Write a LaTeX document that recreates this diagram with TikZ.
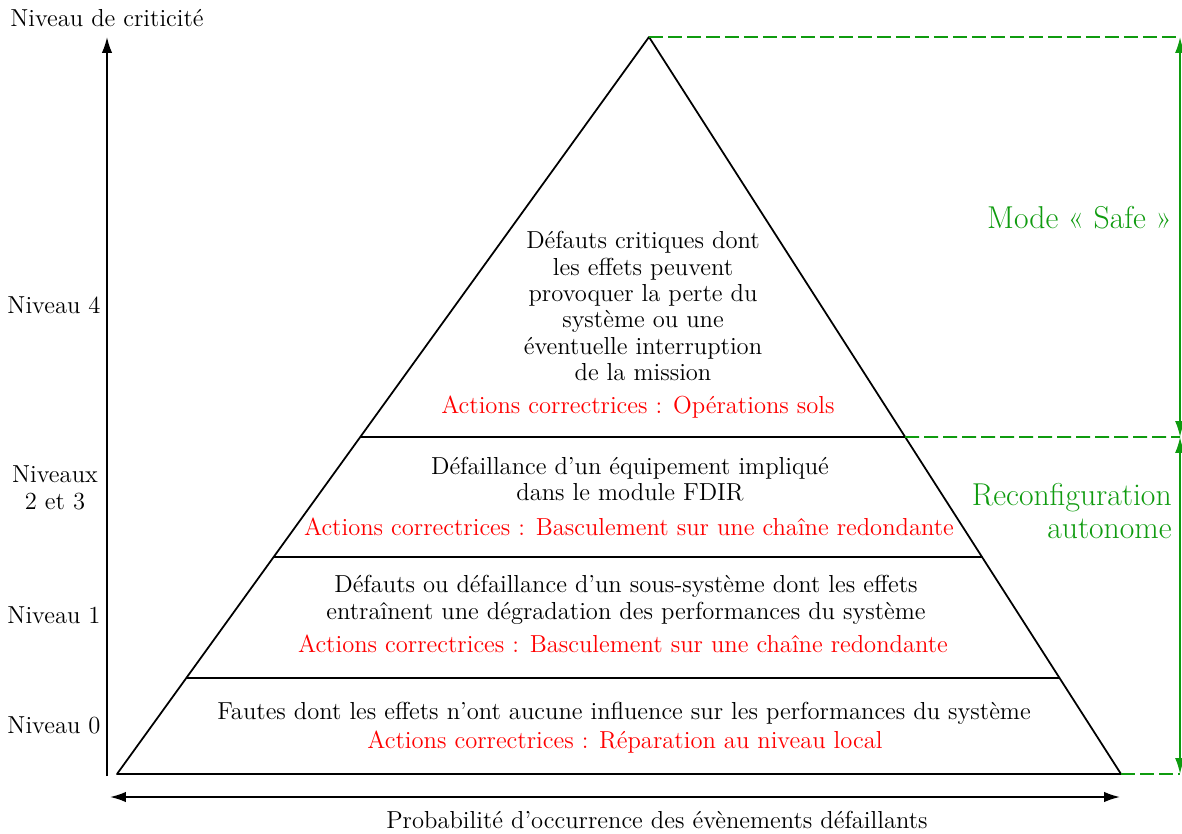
\documentclass[tikz,border=0pt]{standalone}
\usepackage{fontspec}
\usepackage{tikz}
\usetikzlibrary{arrows.meta,positioning,calc}
\definecolor{safegreen}{RGB}{15,155,15}
\tikzset{x=0.02cm, y=-0.02cm, % one unit = one pixel of the drawing
        every node/.style={ % Sets the font of all texts
            font=\fontsize{14}{15}\selectfont},
        pyr/.style={ % Edges of the pyramid
            draw, line width=1pt, line join=round},
        axis/.style={ % The two axes
            draw, line width=1pt,
            >={Latex[length=0.32cm,width=0.21cm]}},
        level/.style={ % Black text in each level
            align=center, inner sep=0pt},
        action/.style={ % Corrective actions, in red
            text=red, inner sep=0pt},
        gdash/.style={ % Green dashed guides
            draw=safegreen, line width=1pt,
            dash pattern=on 0.28cm off 0.1cm},
        garrow/.style={ % Green arrows of the modes
            draw=safegreen, line width=1pt,
            <->, >={Latex[length=0.32cm,width=0.2cm]}},
        mode/.style={ % Green mode labels
            text=safegreen, align=right, anchor=east, inner sep=0pt,
            font=\fontsize{18}{19}\selectfont}
        }

\begin{document}
\begin{tikzpicture}
    \useasboundingbox (0,0) rectangle (1182,834);

    % pyramid
    \coordinate (apex) at (649,37);
    \coordinate (bl) at (117,774);
    \coordinate (br) at (1121,774);
    \draw[pyr] (bl) -- (apex) -- (br) -- cycle;
    \foreach \f/\n in {0.4573/a, 0.2944/b, 0.1303/c}
        \draw[pyr] ($(bl)!\f!(apex)$) coordinate (l\n) -- ($(br)!\f!(apex)$) coordinate (r\n);

    % axes
    \coordinate (o) at (107,776);
    \coordinate (ytop) at (107,37);
    \coordinate (xl) at (110,797);
    \coordinate (xr) at (1120,797);
    \draw[axis,->] (o) -- (ytop);
    \draw[axis,<->] (xl) -- (xr);
    \node (crit) at (107,18) {Niveau de criticité};
    \node (proba) at (657,820) {Probabilité d'occurrence des évènements défaillants};

    % levels
    \node (niv4) at (54,305) {Niveau 4};
    \node[align=center] (niv23) at (55,488) {Niveaux\\2 et 3};
    \node (niv1) at (54,615) {Niveau 1};
    \node (niv0) at (54,725) {Niveau 0};

    % texts in the pyramid
    \node[level] (t4) at (643,306) {Défauts critiques dont\\les effets peuvent\\provoquer la perte du\\système ou une\\éventuelle interruption\\de la mission};
    \node[action] (a4) at (638,407) {Actions correctrices : Opérations sols};
    \node[level] (t23) at (630,479) {Défaillance d'un équipement impliqué\\dans le module FDIR};
    \node[action] (a23) at (629,527) {Actions correctrices : Basculement sur une chaîne redondante};
    \node[level] (t1) at (626,600) {Défauts ou défaillance d'un sous-système dont les effets\\entraînent une dégradation des performances du système};
    \node[action] (a1) at (623,644) {Actions correctrices : Basculement sur une chaîne redondante};
    \node[level] (t0) at (624,713) {Fautes dont les effets n'ont aucune influence sur les performances du système};
    \node[action] (a0) at (625,742) {Actions correctrices : Réparation au niveau local};

    % modes
    \coordinate (g0) at (1180,37);
    \coordinate (g1) at (1180,437);
    \coordinate (g2) at (1180,774);
    \draw[gdash] (apex) -- (g0);
    \draw[gdash] (ra) -- (g1);
    \draw[gdash] (br) -- (g2);
    \draw[garrow] (g0) -- (g1);
    \draw[garrow] (g1) -- (g2);
    \node[mode] (safe) at (1172,218) {Mode « Safe »};
    \node[mode] (reconf) at (1172,511) {Reconfiguration\\autonome};
\end{tikzpicture}
\end{document}
